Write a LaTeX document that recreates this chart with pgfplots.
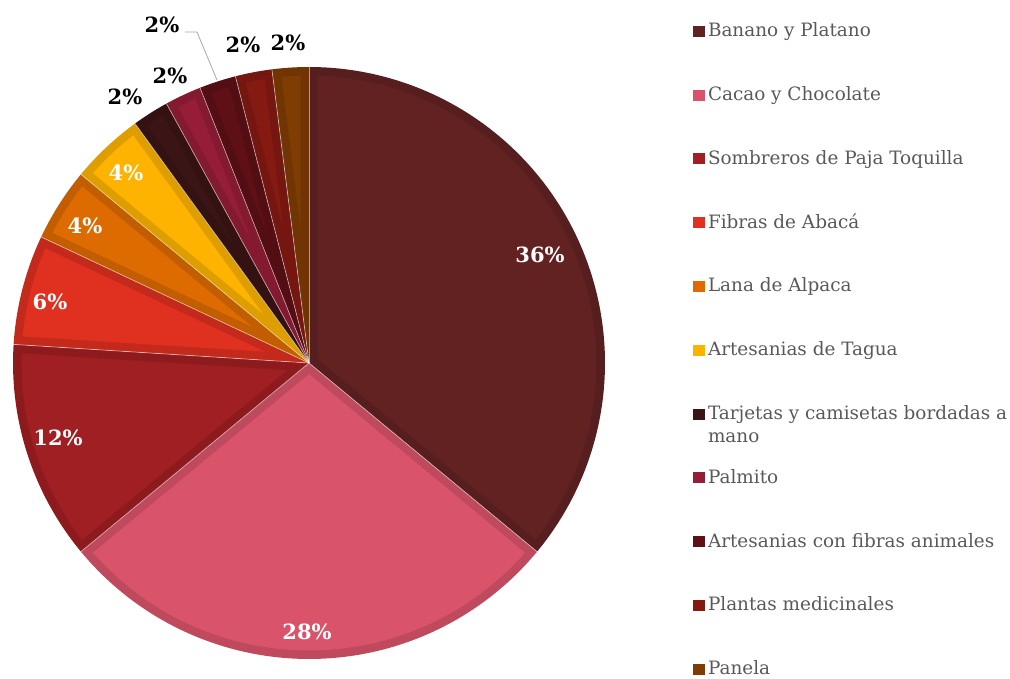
\documentclass[border=0pt]{standalone}
\usepackage{fontspec}
\setmainfont{DejaVu Serif}
\usepackage{pgfplots}
\pgfplotsset{compat=1.18}
\definecolor{banano}{HTML}{622222}
\definecolor{cacao}{HTML}{D9536A}
\definecolor{sombreros}{HTML}{A01F22}
\definecolor{fibras}{HTML}{DF3020}
\definecolor{lana}{HTML}{DD6B00}
\definecolor{tagua}{HTML}{FDB300}
\definecolor{tarjetas}{HTML}{3B1515}
\definecolor{palmito}{HTML}{961D37}
\definecolor{animales}{HTML}{5E1016}
\definecolor{plantas}{HTML}{851A12}
\definecolor{panela}{HTML}{7F3C03}
\definecolor{legtext}{HTML}{595959}
\newcommand\cx{309}
\newcommand\cy{315}
\xdef\cum{0}
\newcommand\slice[2]{%
  \pgfmathsetmacro\aB{90-3.6*\cum}%
  \pgfmathsetmacro\aA{90-3.6*(\cum+#1)}%
  \pgfmathsetmacro\th{3.6*#1}%
  \pgfmathsetmacro\dl{asin(8.5/287.5)}%
  \pgfmathsetmacro\iA{\aA+\dl}%
  \pgfmathsetmacro\iB{\aB-\dl}%
  \pgfmathsetmacro\md{(\aA+\aB)/2}%
  \pgfmathsetmacro\vd{8.5/sin(\th/2)}%
  \pgfmathsetmacro\vx{\cx+\vd*cos(\md)}%
  \pgfmathsetmacro\vy{\cy+\vd*sin(\md)}%
  \pgfmathtruncatemacro\ns{max(8,\th)}%
  \edef\doit{%
    \noexpand\addplot[forget plot, draw=none, fill=#2!88!black, domain=\aA:\aB, samples=\ns] ({\cx+296*cos(x)},{\cy+296*sin(x)}) -- (axis cs:\cx,\cy) -- cycle;
    \noexpand\addplot[forget plot, draw=none, fill=#2, domain=\iA:\iB, samples=\ns] ({\cx+287.5*cos(x)},{\cy+287.5*sin(x)}) -- (axis cs:\vx,\vy) -- cycle;
  }\doit
  \pgfmathsetmacro\cumn{\cum+#1}\xdef\cum{\cumn}%
}
\newcommand\sep[1]{%
  \pgfmathsetmacro\ex{\cx+296*cos(90-3.6*#1)}%
  \pgfmathsetmacro\ey{\cy+296*sin(90-3.6*#1)}%
  \edef\doit{\noexpand\addplot[forget plot, white, opacity=0.55, line width=0.7pt] coordinates {(\cx,\cy) (\ex,\ey)};}\doit
}
\begin{document}
\begin{tikzpicture}
\begin{axis}[width=1010pt,height=678pt,scale only axis,
  xmin=0,xmax=1010,ymin=0,ymax=678, hide axis, clip=false,
  legend style={draw=none, fill=none, inner sep=0pt, outer sep=0pt,
    at={(axis cs:693,655.3)}, anchor=north west, row sep=45.8pt, column sep=3pt,
    font=\fontsize{18.4}{23.3}\selectfont, text=legtext,
    nodes={inner sep=0pt, text height=14pt, text depth=4pt}},
  legend cell align=left,
  legend image code/.code={\fill[#1, draw=none] (0pt,-5pt) rectangle (12pt,6pt);}]
\slice{36}{banano}
\slice{28}{cacao}
\slice{12}{sombreros}
\slice{6}{fibras}
\slice{4}{lana}
\slice{4}{tagua}
\slice{2}{tarjetas}
\slice{2}{palmito}
\slice{2}{animales}
\slice{2}{plantas}
\slice{2}{panela}
\sep{0}\sep{36}\sep{64}\sep{76}\sep{82}\sep{86}\sep{90}\sep{92}\sep{94}\sep{96}\sep{98}
\addplot[forget plot, color=gray!70, line width=0.8pt] coordinates {(185,646) (197,646) (217,598)};
\addlegendimage{fill=banano}\addlegendentry{Banano y Platano}
\addlegendimage{fill=cacao}\addlegendentry{Cacao y Chocolate}
\addlegendimage{fill=sombreros}\addlegendentry{Sombreros de Paja Toquilla}
\addlegendimage{fill=fibras}\addlegendentry{Fibras de Abacá}
\addlegendimage{fill=lana}\addlegendentry{Lana de Alpaca}
\addlegendimage{fill=tagua}\addlegendentry{Artesanias de Tagua}
\addlegendimage{fill=tarjetas}\addlegendentry{\parbox[t]{320pt}{\raggedright Tarjetas y camisetas bordadas a\\mano}}
\addlegendimage{fill=palmito}\addlegendentry{Palmito}
\addlegendimage{fill=animales}\addlegendentry{Artesanias con fibras animales}
\addlegendimage{fill=plantas}\addlegendentry{Plantas medicinales}
\addlegendimage{fill=panela}\addlegendentry{Panela}
\tikzset{lw/.style={font=\fontsize{21}{25}\bfseries\selectfont, text=white, inner sep=0pt},
         lb/.style={font=\fontsize{21}{25}\bfseries\selectfont, text=black, inner sep=0pt}}
\node[lw] at (axis cs:540,423) {36\%};
\node[lw] at (axis cs:307,46) {28\%};
\node[lw] at (axis cs:58,240) {12\%};
\node[lw] at (axis cs:50,376) {6\%};
\node[lw] at (axis cs:85,452) {4\%};
\node[lw] at (axis cs:126,505) {4\%};
\node[lb] at (axis cs:125,581) {2\%};
\node[lb] at (axis cs:170,602) {2\%};
\node[lb] at (axis cs:162,653) {2\%};
\node[lb] at (axis cs:243,633) {2\%};
\node[lb] at (axis cs:288,635) {2\%};
\end{axis}
\pgfresetboundingbox
\useasboundingbox (0,0) rectangle (1010pt,678pt);
\end{tikzpicture}
\end{document}
